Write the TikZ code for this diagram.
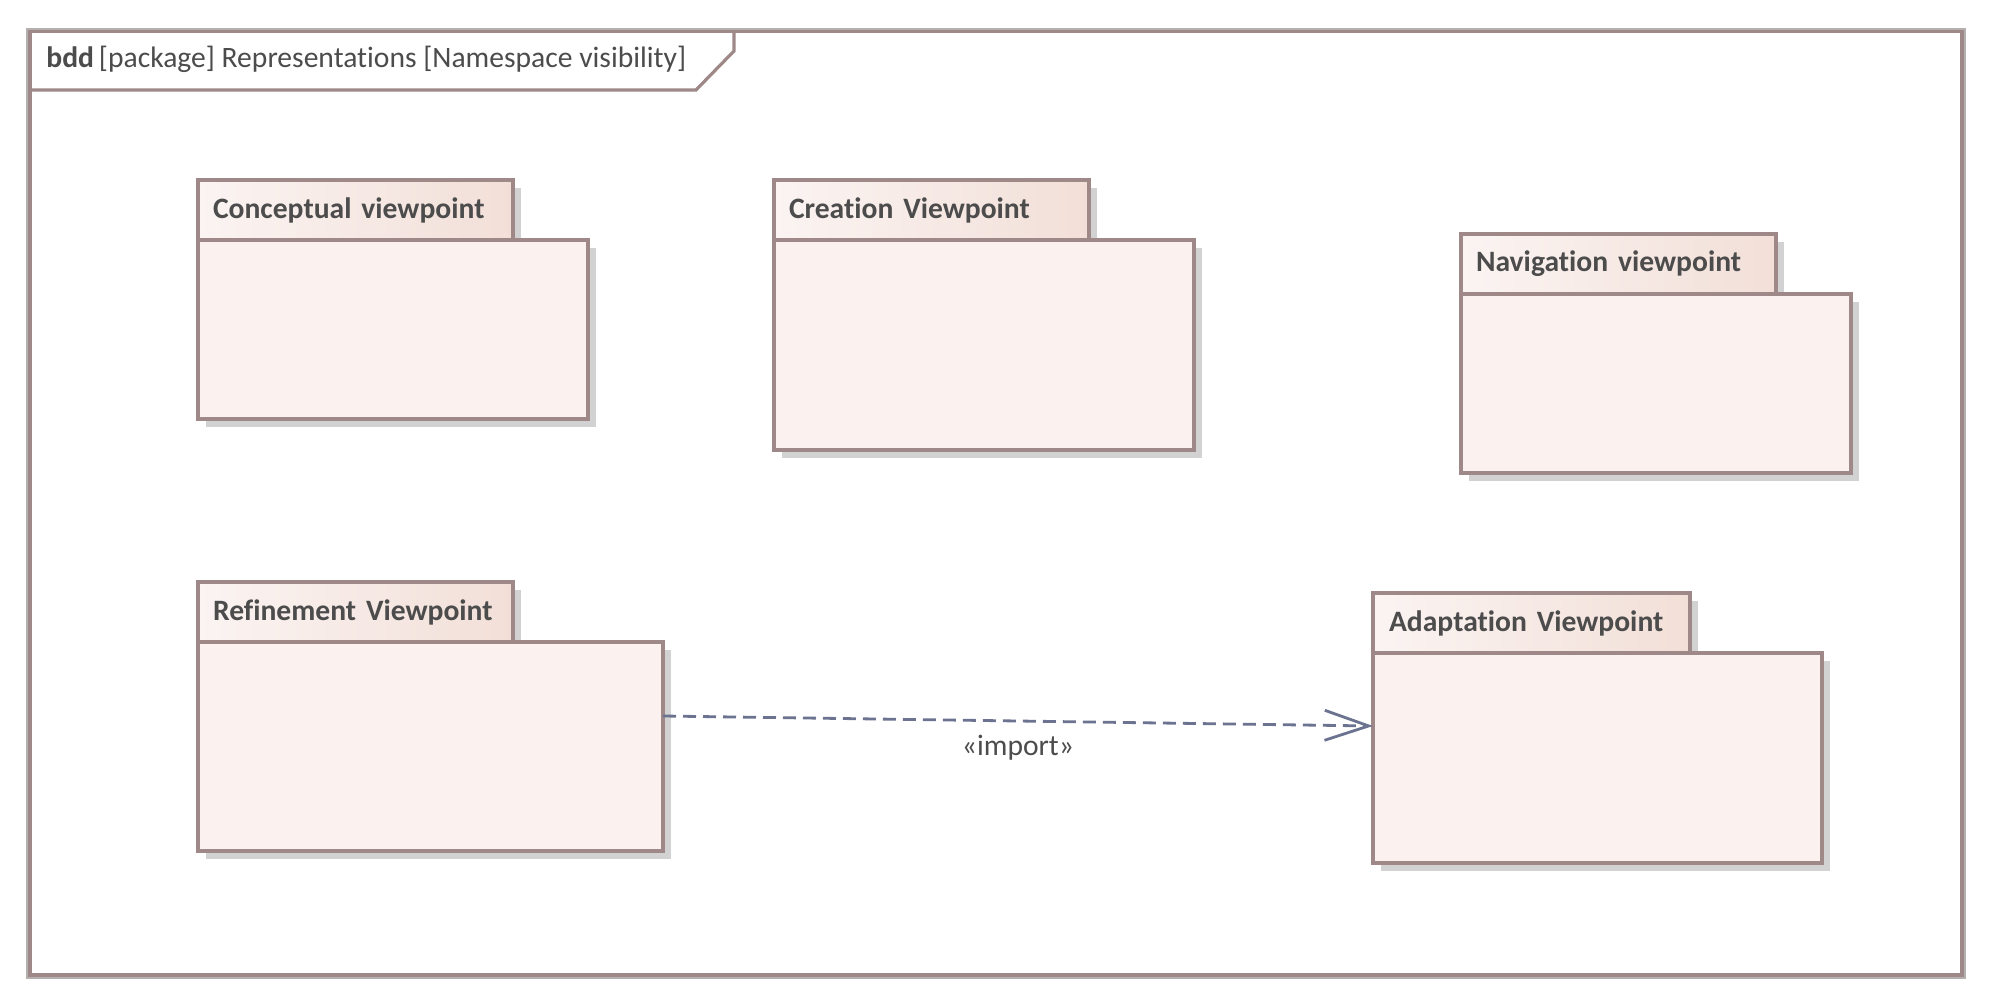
\documentclass[tikz,border=0pt]{standalone}
\usepackage{fontspec}
\setmainfont{Carlito}[Ligatures=NoCommon]
\usetikzlibrary{arrows.meta,shadows}
\definecolor{linebrown}{HTML}{9E8888}
\definecolor{framegray}{HTML}{B4B0B0}
\definecolor{bodyfill}{HTML}{FBF2EF}
\definecolor{tableft}{HTML}{FBF4F2}
\definecolor{tabright}{HTML}{F2DFD8}
\definecolor{txt}{HTML}{4C4C4C}
\definecolor{arrowcol}{HTML}{6B7390}
\definecolor{shadowgray}{HTML}{D2D2D2}
\newcommand\mytabfont{\fontsize{14.8pt}{17pt}\selectfont\bfseries\spaceskip=3pt plus 1pt\relax}
\tikzset{
  pkgshadow/.style={drop shadow={shadow xshift=3.8pt, shadow yshift=-3.8pt, fill=shadowgray, opacity=1}},
  tabbox/.style={rectangle, draw=linebrown, line width=1.6pt, left color=tableft, right color=tabright,
    pkgshadow, minimum width=157.5pt, minimum height=30pt, text width=142.5pt, inner xsep=7.5pt,
    inner ysep=0pt, align=left, anchor=north west, outer sep=0pt, text=txt,
    font=\mytabfont},
  bodybox/.style={rectangle, draw=linebrown, line width=1.6pt, fill=bodyfill, pkgshadow,
    anchor=north west, outer sep=0pt, inner sep=0pt},
  importline/.style={draw=arrowcol, line width=1.4pt, dash pattern=on 6.5pt off 3.5pt,
    -{Straight Barb[length=22pt, width=15pt, line width=1.4pt]}},
  lbl/.style={text=txt, font=\fontsize{14.8pt}{17pt}\selectfont}
}
\begin{document}
\begin{tikzpicture}[x=0.5pt,y=-0.5pt]
\useasboundingbox (0,0) rectangle (1992,1005);
\fill[white] (0,0) rectangle (1992,1005);
% frame
\draw[framegray, line width=1.2pt] (27.5,29) rectangle (1964.5,977.5);
\draw[linebrown, line width=1.6pt] (30,31.5) rectangle (1962,975);
\draw[linebrown, line width=1.6pt] (30,90) -- (696,90) -- (734,51) -- (734,31.5);
\node[lbl, anchor=base west, inner sep=0pt] (title) at (46,68)
  {\textbf{bdd}\,[package] Representations [Namespace visibility]};
% Conceptual viewpoint
\node[tabbox] (conc-tab) at (198,180) {Conceptual viewpoint};
\node[bodybox, minimum width=195pt, minimum height=89.5pt] (conc) at (198,240) {};
% Creation Viewpoint
\node[tabbox] (crea-tab) at (774,180) {Creation Viewpoint};
\node[bodybox, minimum width=210pt, minimum height=105pt] (crea) at (774,240) {};
% Navigation viewpoint
\node[tabbox] (nav-tab) at (1461,234) {Navigation viewpoint};
\node[bodybox, minimum width=195pt, minimum height=89.5pt] (nav) at (1461,294) {};
% Refinement Viewpoint
\node[tabbox] (ref-tab) at (198,582) {Refinement Viewpoint};
\node[bodybox, minimum width=232.5pt, minimum height=104.5pt] (ref) at (198,642) {};
% Adaptation Viewpoint
\node[tabbox, minimum width=158.5pt] (adp-tab) at (1373,593) {Adaptation Viewpoint};
\node[bodybox, minimum width=224.5pt, minimum height=105pt] (adp) at (1373,653) {};
% import dependency
\draw[importline] ([yshift=15.25pt]ref.east) -- node[lbl, midway, yshift=-13.5pt] (imp) {«import»} ([yshift=16pt]adp.west);
\end{tikzpicture}
\end{document}
